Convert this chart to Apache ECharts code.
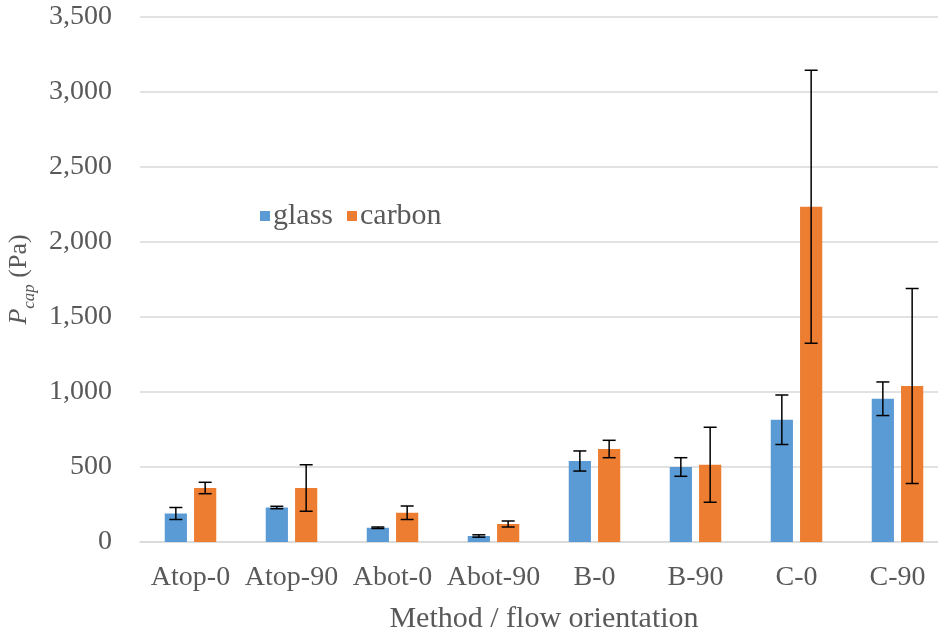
<!DOCTYPE html>
<html><head><meta charset="utf-8">
<script src="https://cdn.jsdelivr.net/npm/echarts@6/dist/echarts.min.js"></script>
<style>html,body{margin:0;padding:0;background:#fff}#c{width:938px;height:636px}</style>
</head><body><div id="c"></div>
<script>
const categories = ['Atop-0','Atop-90','Abot-0','Abot-90','B-0','B-90','C-0','C-90'];
const glass = [190, 230, 95, 40, 540, 500, 815, 955];
const glassErr = [40, 8, 5, 8, 67, 62, 165, 112];
const carbon = [360, 360, 195, 120, 620, 515, 2235, 1040];
const carbonErr = [38, 155, 45, 20, 58, 250, 910, 650];
const yTicks = [0, 500, 1000, 1500, 2000, 2500, 3000, 3500];

const FONT = 'Liberation Serif';
const TXT = '#595959';
const CAT_GAP = 0.49, BAR_GAP = 0.32;

function errSeries(name, vals, errs, sign){
  return {
    type: 'custom', name: name + ' err', silent: true, z: 5,
    data: vals.map((v,i)=>[i, v, errs[i]]),
    renderItem: function(params, api){
      const i = api.value(0), v = api.value(1), e = api.value(2);
      const band = api.size([1,0])[0];
      const w = band*(1-CAT_GAP)/(2+BAR_GAP);
      const off = sign*(w*(1+BAR_GAP)/2);
      const top = api.coord([i, v+e]);
      const bot = api.coord([i, v-e]);
      const x = top[0] + off;
      const cap = 6.5;
      const st = {stroke:'#000', lineWidth:1.5};
      return {type:'group', children:[
        {type:'line', shape:{x1:x,y1:top[1],x2:x,y2:bot[1]}, style:st},
        {type:'line', shape:{x1:x-cap,y1:top[1],x2:x+cap,y2:top[1]}, style:st},
        {type:'line', shape:{x1:x-cap,y1:bot[1],x2:x+cap,y2:bot[1]}, style:st}
      ]};
    }
  };
}

const chart = echarts.init(document.getElementById('c'), null, {renderer:'canvas'});
chart.setOption({
  animation: false,
  textStyle: {fontFamily: FONT},
  color: ['#5B9BD5', '#ED7D31'],
  legend: {
    data: ['glass','carbon'], left: 255, top: 196,
    itemWidth: 10, itemHeight: 10, itemGap: 14, icon: 'rect',
    textStyle: {fontFamily: FONT, fontSize: 30, color: TXT, padding:[0,0,0,-2]}
  },
  grid: {left: 140, right: -10, top: 17, bottom: 94, containLabel: false, outerBoundsMode: 'none'},
  xAxis: {
    type: 'category', data: categories,
    axisLine: {lineStyle: {color: '#D9D9D9', width: 1.5}},
    axisTick: {show: false},
    axisLabel: {fontFamily: FONT, fontSize: 28, color: TXT, margin: 22, interval: 0},
    name: 'Method / flow orientation', nameLocation: 'middle', nameGap: 62,
    nameTextStyle: {fontFamily: FONT, fontSize: 30, color: TXT}
  },
  yAxis: {
    type: 'value', min: 0, max: 3500, interval: 500,
    axisLine: {show: false}, axisTick: {show: false},
    splitLine: {lineStyle: {color: '#D9D9D9', width: 1.5}},
    axisLabel: {fontFamily: FONT, fontSize: 28, color: TXT, margin: 28,
      formatter: v => yTicks.includes(v) ? v.toLocaleString('en-US') : ''},
    name: '{i|P}{s|cap}{n| (Pa)}', nameLocation: 'middle', nameGap: 96, nameRotate: 90,
    nameTextStyle: {
      rich: {
        i: {fontFamily: FONT, fontStyle: 'italic', fontSize: 26, color: TXT, lineHeight: 30, verticalAlign: 'bottom'},
        s: {fontFamily: FONT, fontStyle: 'italic', fontSize: 17, color: TXT, lineHeight: 30, verticalAlign: 'bottom', padding: [0,0,-6,0]},
        n: {fontFamily: FONT, fontSize: 26, color: TXT, lineHeight: 30, verticalAlign: 'bottom'}
      }
    }
  },
  series: [
    {name: 'glass', type: 'bar', data: glass, barCategoryGap: '49%', barGap: '32%'},
    {name: 'carbon', type: 'bar', data: carbon, barCategoryGap: '49%', barGap: '32%'},
    errSeries('glass', glass, glassErr, -1),
    errSeries('carbon', carbon, carbonErr, 1)
  ]
});
</script></body></html>
